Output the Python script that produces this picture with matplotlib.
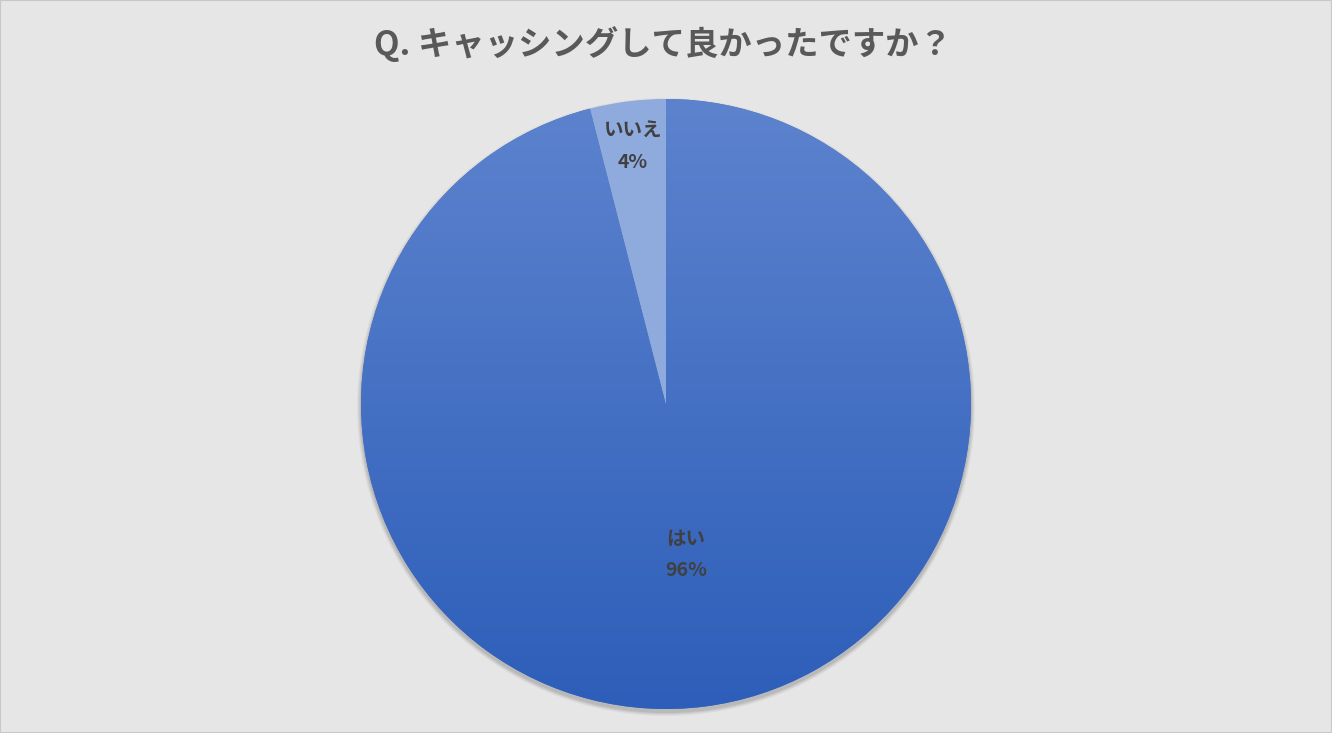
import numpy as np
import matplotlib
matplotlib.use("Agg")
import matplotlib.pyplot as plt
from matplotlib.patches import Circle, Rectangle

plt.rcParams['font.family'] = ['Noto Sans CJK JP', 'DejaVu Sans']

title = "Q. キャッシングして良かったですか？"
labels = ["はい", "いいえ"]
shares = [96, 4]

W, H = 1332, 733
fig = plt.figure(figsize=(W / 100, H / 100), dpi=100, facecolor="#e6e6e6")
ax = fig.add_axes([0, 0, 1, 1])

cx, cy, r = 666, H - 404, 305

# soft shadow under the pie
for k, a in enumerate([0.05, 0.06, 0.08, 0.10]):
    ax.add_patch(Circle((cx, cy - 3), r + 4 - k, color="#404040", alpha=a, lw=0, zorder=1))

wedges, _ = ax.pie(shares, startangle=90, counterclock=False, center=(cx, cy), radius=r,
                   colors=["#4472c4", "#8faadc"], wedgeprops=dict(lw=0, zorder=2))
ax.set_xlim(0, W)
ax.set_ylim(0, H)
ax.set_aspect("equal")
ax.axis("off")

# vertical gradient on the main slice
top = np.array([93, 131, 206]) / 255
bot = np.array([45, 94, 185]) / 255
t = np.linspace(0, 1, 256)[:, None]
grad = (top[None, :] * (1 - t) + bot[None, :] * t)[:, None, :]
im = ax.imshow(grad, extent=(cx - r, cx + r, cy - r, cy + r), origin="upper",
               aspect="auto", zorder=3, interpolation="bilinear")
im.set_clip_path(wedges[0])
wedges[1].set_zorder(4)

lab_kw = dict(ha="center", va="center", fontsize=14, fontweight="bold", color="#404040", zorder=5)
ax.text(686, H - 539, labels[0], **lab_kw)
ax.text(686, H - 571, f"{shares[0]}%", **lab_kw)
ax.text(633, H - 130, labels[1], **lab_kw)
ax.text(633, H - 162, f"{shares[1]}%", **lab_kw)

ax.text(W / 2 - 3, H - 44, title, ha="center", va="center", fontsize=24,
        fontweight="bold", color="#595959")

fig.add_artist(Rectangle((0, 0), 1, 1, transform=fig.transFigure, fill=False,
                         ec="#c8c8c8", lw=1.5))

fig.savefig("out.png", dpi=100, facecolor=fig.get_facecolor())
